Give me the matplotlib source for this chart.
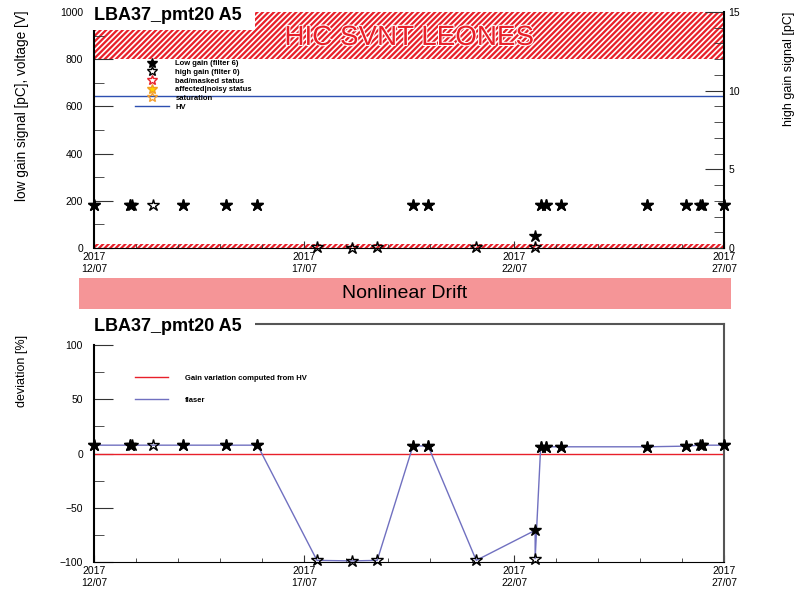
import matplotlib
matplotlib.use("Agg")
import matplotlib.pyplot as plt
import matplotlib.dates as mdates
import matplotlib.patheffects as pe
from matplotlib.patches import Rectangle
from matplotlib.lines import Line2D
from matplotlib.ticker import MultipleLocator, FixedLocator
import pandas as pd

plt.rcParams["font.family"] = ["Liberation Sans", "DejaVu Sans"]
plt.rcParams["hatch.linewidth"] = 1.2

# ---- data ----
title = "LBA37_pmt20 A5"
x_range = ["2017-07-12 00:00", "2017-07-27 00:00"]

# low gain (filter 6), pC
lg_times = ["2017-07-12 00:00", "2017-07-12 20:30", "2017-07-12 21:40", "2017-07-14 03:00",
            "2017-07-15 03:20", "2017-07-15 21:25", "2017-07-19 14:15", "2017-07-19 22:55",
            "2017-07-22 12:05", "2017-07-22 15:15", "2017-07-22 18:10", "2017-07-23 02:35",
            "2017-07-25 03:55", "2017-07-26 02:05", "2017-07-26 10:30", "2017-07-26 11:15",
            "2017-07-27 00:00"]
lg_values = [182, 184, 183, 182, 183, 183, 183, 183, 52, 181, 181, 182, 182, 183, 182, 183, 182]
lg_dev = [7.7, 7.7, 7.7, 7.7, 7.7, 7.7, 7.0, 7.0, -70.8, 6.2, 6.2, 6.2, 6.2, 6.8, 7.7, 7.7, 7.7]

# high gain (filter 0), pC
hg_times = ["2017-07-12 00:00", "2017-07-12 20:30", "2017-07-13 09:30", "2017-07-14 03:00",
            "2017-07-15 03:20", "2017-07-15 21:25", "2017-07-17 07:25", "2017-07-18 03:20",
            "2017-07-18 17:50", "2017-07-19 14:15", "2017-07-19 22:55", "2017-07-21 02:25",
            "2017-07-22 12:05", "2017-07-22 15:15", "2017-07-22 18:10", "2017-07-23 02:35",
            "2017-07-25 03:55", "2017-07-26 02:05", "2017-07-26 11:15", "2017-07-27 00:00"]
hg_values = [2.74, 2.76, 2.75, 2.74, 2.75, 2.75, 0.04, 0.03, 0.04, 2.75, 2.75, 0.04,
             0.08, 2.72, 2.72, 2.73, 2.73, 2.74, 2.74, 2.74]
hg_dev = [7.7, 7.7, 7.7, 7.7, 7.7, 7.7, -98.5, -99.0, -98.5, 7.0, 7.0, -98.5,
          -97.0, 6.2, 6.2, 6.2, 6.2, 6.8, 7.7, 7.7]

hv_values = [644, 644]        # HV [V] over the range
hv_gain_dev = [0, 0]          # gain variation computed from HV [%]

lg_t = pd.to_datetime(lg_times)
hg_t = pd.to_datetime(hg_times)
xr = pd.to_datetime(x_range)

# laser curve joins every point in time order (low gain first on ties)
laser = pd.concat([
    pd.DataFrame({"t": lg_t, "dev": lg_dev, "k": 0}),
    pd.DataFrame({"t": hg_t, "dev": hg_dev, "k": 1}),
]).sort_values(["t", "k"], kind="stable")

W, H = 801, 593
fig = plt.figure(figsize=(W / 100, H / 100), dpi=100)


def box(x0, y0, x1, y1):
    return [x0 / W, 1 - y1 / H, (x1 - x0) / W, (y1 - y0) / H]


RED = "#e8202a"
tick_kw = dict(labelsize=7.5, colors="#333333", labelcolor="black")

# ---------------- top panel ----------------
ax = fig.add_axes(box(94, 12, 724, 248))
ax2 = ax.twinx()

ax.set_xlim(xr[0], xr[1])
ax.set_ylim(0, 1000)
ax2.set_ylim(0, 15)

ax.axhspan(800, 1000, facecolor=RED, edgecolor="white", hatch="//////", lw=0, zorder=0.5)
ax.axhspan(0, 16, facecolor=RED, edgecolor="white", hatch="//////", lw=0, zorder=0.5)
ax.text(0.5, 0.89, "HIC SVNT LEONES", transform=ax.transAxes, ha="center", va="center",
        fontsize=20, color=RED, zorder=1,
        path_effects=[pe.withStroke(linewidth=1.5, foreground="white")])

ax.plot(xr, hv_values, color="#2d4fb0", lw=1)
ax.plot(lg_t, lg_values, ls="none", marker="*", ms=9, color="black", clip_on=False, zorder=4)
ax2.plot(hg_t, hg_values, ls="none", marker="*", ms=9, mfc="none", mec="black", mew=1,
         clip_on=False)

handles = [
    Line2D([], [], ls="none", marker="*", ms=7, color="black"),
    Line2D([], [], ls="none", marker="*", ms=7, mfc="none", mec="black"),
    Line2D([], [], ls="none", marker="*", ms=7, mfc="none", mec=RED),
    Line2D([], [], ls="none", marker="*", ms=7, mfc="#ffd400", mec="#f0a020"),
    Line2D([], [], ls="none", marker="*", ms=7, mfc="none", mec="#f5a030"),
    Line2D([], [], color="#2d4fb0", lw=1),
]
labels = ["Low gain (filter 6)", "high gain (filter 0)", "bad/masked status",
          "affected|noisy status", "saturation", "HV"]
ax.legend(handles, labels, loc="upper left", bbox_to_anchor=(0.065, 0.797), frameon=False,
          prop={"size": 5.5, "weight": "bold"}, labelspacing=0.18, handlelength=4.4,
          handletextpad=0.9, borderpad=0, borderaxespad=0)

ax.yaxis.set_major_locator(MultipleLocator(200))
ax.yaxis.set_minor_locator(MultipleLocator(100))
ax.tick_params(axis="y", which="major", direction="in", length=14, pad=8, **tick_kw)
ax.tick_params(axis="y", which="minor", direction="in", length=7, colors="#333333")
ax2.yaxis.set_major_locator(MultipleLocator(5))
ax2.yaxis.set_minor_locator(MultipleLocator(1))
ax2.tick_params(axis="y", which="major", direction="in", length=14, pad=3, **tick_kw)
ax2.tick_params(axis="y", which="minor", direction="in", length=7, colors="#333333")

for a in (ax, ax2):
    a.spines["top"].set_visible(False)
ax.spines["right"].set_visible(False)
ax2.spines["left"].set_visible(False)
ax2.spines["bottom"].set_visible(False)
ax.spines["left"].set_linewidth(1.5)
ax2.spines["right"].set_linewidth(1.5)

# ---------------- bottom panel ----------------
bx = fig.add_axes(box(94, 324, 724, 562))
bx.set_xlim(xr[0], xr[1])
bx.set_ylim(-100, 119.4)
bx.spines["left"].set_bounds(-100, 100)
bx.spines["left"].set_linewidth(1.5)
for s in ("top", "right"):
    bx.spines[s].set_color("#555555")
    bx.spines[s].set_linewidth(1.5)

bx.plot(xr, hv_gain_dev, color=RED, lw=1)
bx.plot(laser["t"], laser["dev"], color="#7070c0", lw=1)
bx.plot(hg_t, hg_dev, ls="none", marker="*", ms=9, mfc="none", mec="black", mew=1,
        clip_on=False, zorder=4)
bx.plot(lg_t, lg_dev, ls="none", marker="*", ms=9, color="black", clip_on=False, zorder=5)

bx.legend([Line2D([], [], color=RED, lw=1), Line2D([], [], color="#7070c0", lw=1)],
          ["Gain variation computed from HV", "flaser"], loc="upper left",
          bbox_to_anchor=(0.065, 0.787), frameon=False, prop={"size": 5.5, "weight": "bold"},
          labelspacing=1.9, handlelength=4.3, handletextpad=2.25, borderpad=0, borderaxespad=0)

bx.yaxis.set_major_locator(FixedLocator([-100, -50, 0, 50, 100]))
bx.yaxis.set_minor_locator(FixedLocator([-75, -25, 25, 75]))
bx.tick_params(axis="y", which="major", direction="in", length=14, pad=8, **tick_kw)
bx.tick_params(axis="y", which="minor", direction="in", length=7, colors="#333333")

for a in (ax, bx):
    a.xaxis.set_major_locator(mdates.DayLocator(bymonthday=[12, 17, 22, 27]))
    a.xaxis.set_minor_locator(mdates.DayLocator())
    a.xaxis.set_major_formatter(mdates.DateFormatter("%Y\n%d/%m"))
    a.tick_params(axis="x", which="major", direction="in", length=5, pad=3, **tick_kw)
    a.tick_params(axis="x", which="minor", direction="in", length=3, colors="#333333")
    for lab in a.get_xticklabels():
        lab.set_linespacing(1.25)

# ---------------- figure decorations ----------------
for y0, y1, yb in ((0, 30, 20), (315, 335, 331)):
    fig.add_artist(Rectangle((85 / W, 1 - y1 / H), 170 / W, (y1 - y0) / H, facecolor="white",
                             edgecolor="none", transform=fig.transFigure, zorder=5))
    fig.text(94 / W, 1 - yb / H, title, fontsize=13, fontweight="bold", va="baseline",
             zorder=6)

fig.add_artist(Rectangle((79 / W, 1 - 309 / H), 652 / W, 31 / H, facecolor="#f59597",
                         edgecolor="none", transform=fig.transFigure, zorder=1))
fig.text(405 / W, 1 - 294 / H, "Nonlinear Drift", fontsize=14, ha="center", va="center")

fig.text(22 / W, 1 - 106 / H, "low gain signal [pC], voltage [V]", rotation=90,
         fontsize=9.8, ha="center", va="center")
fig.text(789 / W, 1 - 69 / H, "high gain signal [pC]", rotation=90, fontsize=9,
         ha="center", va="center")
fig.text(22 / W, 1 - 371 / H, "deviation [%]", rotation=90, fontsize=9,
         ha="center", va="center")

fig.savefig("out.png", dpi=100)
